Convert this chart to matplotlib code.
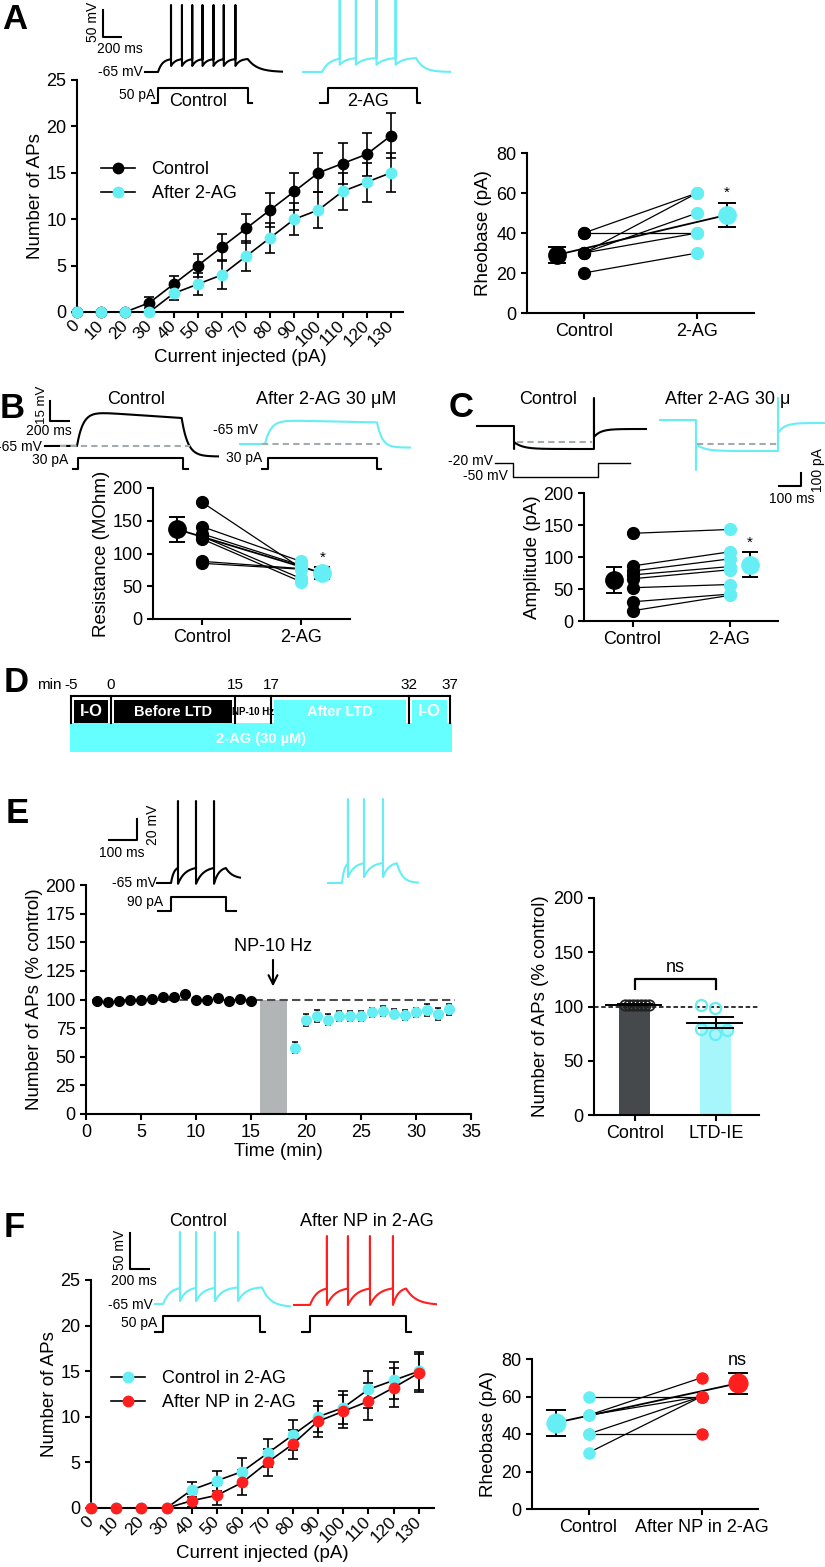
import numpy as np
import matplotlib.pyplot as plt
from matplotlib.patches import Rectangle

plt.rcParams['font.family'] = ['Liberation Sans', 'DejaVu Sans']
plt.rcParams['font.size'] = 12
plt.rcParams['axes.linewidth'] = 1.5
plt.rcParams['xtick.major.width'] = 1.5
plt.rcParams['ytick.major.width'] = 1.5
plt.rcParams['xtick.major.size'] = 4
plt.rcParams['ytick.major.size'] = 4
plt.rcParams['xtick.labelsize'] = 13
plt.rcParams['ytick.labelsize'] = 13
plt.rcParams['axes.labelsize'] = 13.5

W, H = 825, 1567
CYAN = '#66eef5'
RED = '#ff1f1f'
GREY = '#a3abae'

# ---------------- data ----------------
current = np.arange(0, 140, 10)

# A: input-output
aps_ctrl = [0, 0, 0, 1, 3, 5, 7, 9, 11, 13, 15, 16, 17, 19]
aps_ctrl_err = [0, 0, 0, 0.6, 0.9, 1.2, 1.4, 1.6, 1.8, 2.0, 2.1, 2.2, 2.3, 2.4]
aps_2ag = [0, 0, 0, 0, 2, 3, 4, 6, 8, 10, 11, 13, 14, 15]
aps_2ag_err = [0, 0, 0, 0, 0.7, 1.2, 1.5, 1.6, 1.6, 1.7, 1.9, 2.0, 2.1, 2.1]

# A: rheobase
rheo_ctrl = [40, 40, 30, 30, 30, 20]
rheo_2ag = [60, 40, 60, 50, 40, 30]
rheo_mean = [29, 49]
rheo_sem = [3.8, 6]

# B: input resistance
res_ctrl = [178, 141, 130, 126, 122, 88, 85]
res_2ag = [78, 88, 82, 62, 57, 77, 76]
res_mean = [137, 70]
res_sem = [19, 9]

# C: current amplitude
amp_ctrl = [137, 86, 78, 72, 66, 52, 30, 16]
amp_2ag = [143, 108, 97, 85, 80, 57, 42, 40]
amp_mean = [64, 88]
amp_sem = [21, 20]

# D: protocol timeline
d_labels = ['-5', '0', '15', '17', '32', '37']

# E: time course
time_pre = np.arange(1, 16)
aps_pre = [99, 98, 99, 100, 100, 100.5, 102.5, 102.5, 105, 100, 100, 101, 99, 100.3, 99]
time_post = np.arange(19, 34)
aps_post = [58, 82, 85.5, 82.5, 85.5, 85.5, 85.5, 89, 90, 87.5, 86.5, 89, 91, 87.5, 91.5]
aps_post_err = [5, 5, 5, 5, 4.5, 4.5, 4.5, 4, 4, 4, 4.5, 4, 5, 5, 5]

# E: summary bars
bar_cats = ['Control', 'LTD-IE']
bar_means = [101.5, 85.2]
bar_sem = [0.5, 5]
ctrl_pts = [101.5] * 7
ctrl_off = [-0.12, -0.07, -0.02, 0.03, 0.08, 0.13, 0.18]
ltd_pts = [101.5, 98.5, 79, 74.8, 78.5]
ltd_off = [-0.18, -0.01, -0.18, -0.01, 0.14]

# F: input-output in 2-AG
aps_c2 = [0, 0, 0, 0, 2, 3, 4, 6, 8, 10, 11, 13, 14, 15]
aps_c2_err = [0, 0, 0, 0, 0.8, 1.1, 1.5, 1.55, 1.6, 1.7, 1.8, 2.0, 2.0, 2.1]
aps_np = [0, 0, 0, 0, 0.8, 1.4, 2.8, 5, 7, 9.5, 10.6, 11.7, 13.2, 14.8]
aps_np_err = [0, 0, 0, 0, 0.7, 1.1, 1.4, 1.5, 1.6, 1.7, 1.8, 2.0, 2.1, 2.1]

# F: rheobase
rheo_c2 = [60, 50, 50, 40, 30, 40]
rheo_np = [60, 70, 60, 60, 60, 40]
rheo2_mean = [46, 67]
rheo2_sem = [7, 5.5]

# ---------------- figure ----------------
fig = plt.figure(figsize=(W / 100, H / 100), dpi=100)


def px_axes(l, t, r, b):
    ax = fig.add_axes([l / W, 1 - b / H, (r - l) / W, (b - t) / H])
    ax.spines['top'].set_visible(False)
    ax.spines['right'].set_visible(False)
    return ax


def io_plot(ax, series, xmax):
    for y, e, c, lab in series:
        ax.errorbar(current, y, yerr=e, fmt='none', ecolor='black', elinewidth=1.2,
                    capsize=3.5, capthick=1.2, zorder=2, clip_on=False)
        ax.plot(current, y, '-o', color='black', lw=1.2, ms=7.5, mfc=c, mec=c,
                label=lab, zorder=3, clip_on=False)
    ax.set_xlim(0, xmax)
    ax.set_ylim(0, 25)
    ax.set_yticks([0, 5, 10, 15, 20, 25])
    ax.set_xticks(current)
    ax.set_xticklabels([str(c) for c in current], rotation=45, ha='right', va='center',
                       rotation_mode='anchor', fontsize=12.5)
    ax.tick_params(axis='x', pad=4)
    ax.set_ylabel('Number of APs', labelpad=2)
    ax.set_xlabel('Current injected (pA)', labelpad=0)


def paired(ax, a, b, means, sems, ca, cb, mean_x, ms=8.5, mms=12.5, cap=6.5,
           mean_line=True):
    for va, vb in zip(a, b):
        ax.plot([0, 1], [va, vb], color='black', lw=0.9, zorder=2)
    if mean_line:
        ax.plot(mean_x, means, color='black', lw=1.3, zorder=2)
    ax.plot(np.zeros(len(a)), a, 'o', ms=ms, color=ca, zorder=3, clip_on=False)
    ax.plot(np.ones(len(b)), b, 'o', ms=ms, color=cb, zorder=3, clip_on=False)
    ax.errorbar(mean_x, means, yerr=sems, fmt='none', ecolor='black', capsize=cap,
                elinewidth=1.4, capthick=1.4, zorder=4)
    for mx, m, c in zip(mean_x, means, (ca, cb)):
        ax.plot(mx, m, 'o', ms=mms, color=c, zorder=5)
    ax.set_xlim(-0.5, 1.5)
    ax.set_xticks([0, 1])


# A main
axA = px_axes(77, 80, 403, 312)
io_plot(axA, [(aps_ctrl, aps_ctrl_err, 'black', 'Control'),
              (aps_2ag, aps_2ag_err, CYAN, 'After 2-AG')], 135)
axA.legend(loc='upper left', bbox_to_anchor=(92 / W, 1 - 152 / H), bbox_transform=fig.transFigure,
           frameon=False, fontsize=13, handlelength=1.9, handletextpad=0.9, borderpad=0,
           labelspacing=0.4)

# A rheobase
axAr = px_axes(527, 153, 754, 313)
paired(axAr, rheo_ctrl, rheo_2ag, rheo_mean, rheo_sem, 'black', CYAN, (-0.24, 1.26))
axAr.set_ylim(0, 80)
axAr.set_yticks([0, 20, 40, 60, 80])
axAr.set_xticklabels(['Control', '2-AG'])
axAr.set_ylabel('Rheobase (pA)', labelpad=3)
axAr.text(1.26, rheo_mean[1] + rheo_sem[1] + 1.5, '*', ha='center', va='bottom', fontsize=11)

# B resistance
axB = px_axes(153, 488, 350, 619)
paired(axB, res_ctrl, res_2ag, res_mean, res_sem, 'black', CYAN, (-0.255, 1.22), cap=6)
axB.set_ylim(0, 200)
axB.set_yticks([0, 50, 100, 150, 200])
axB.set_xticklabels(['Control', '2-AG'])
axB.set_ylabel('Resistance (MOhm)', labelpad=2)
axB.text(1.22, res_mean[1] + res_sem[1] + 4, '*', ha='center', va='bottom', fontsize=11)

# C amplitude
axC = px_axes(584, 493, 778, 621)
paired(axC, amp_ctrl, amp_2ag, amp_mean, amp_sem, 'black', CYAN, (-0.19, 1.21), cap=5.5,
       mean_line=False)
axC.set_ylim(0, 200)
axC.set_yticks([0, 50, 100, 150, 200])
axC.set_xticklabels(['Control', '2-AG'])
axC.set_ylabel('Amplitude (pA)', labelpad=2)
axC.text(1.21, amp_mean[1] + amp_sem[1] + 4, '*', ha='center', va='bottom', fontsize=11)

# E time course
axE = px_axes(86, 885, 471, 1114)
axE.axvspan(15.8, 18.3, ymin=0, ymax=0.5, color='#b1b5b6', lw=0, zorder=1)
axE.plot([0.5, 33.5], [100, 100], ls=(0, (4, 2)), color='#4d4d4d', lw=1.5, zorder=1)
axE.errorbar(time_post, aps_post, yerr=aps_post_err, fmt='none', ecolor='black',
             elinewidth=1.1, capsize=2.5, capthick=1.1, zorder=2)
axE.plot(time_pre, aps_pre, 'o', color='black', ms=7, zorder=3)
axE.plot(time_post, aps_post, 'o', color=CYAN, ms=7, zorder=3)
axE.annotate('', xy=(17, 109), xytext=(17, 137),
             arrowprops=dict(arrowstyle='->', lw=1.5, color='black', mutation_scale=16))
axE.text(17, 146, 'NP-10 Hz', ha='center', va='center', fontsize=13)
axE.set_xlim(0, 35)
axE.set_ylim(0, 200)
axE.set_xticks(range(0, 40, 5))
axE.set_yticks(range(0, 225, 25))
axE.set_xlabel('Time (min)', labelpad=1)
axE.set_ylabel('Number of APs (% control)', labelpad=2)

# E bars
axEb = px_axes(594, 898, 759, 1115)
axEb.bar([0, 1], bar_means, width=0.38, color=['#45494c', '#a6f6fb'], zorder=1)
axEb.axhline(100, ls=(0, (2.5, 1.5)), color='#222222', lw=1.3, zorder=2)
axEb.plot(np.array(ctrl_off), ctrl_pts, 'o', mfc='none', mec='#222222', mew=1.3, ms=7.5, zorder=3)
axEb.plot(1 + np.array(ltd_off), ltd_pts, 'o', mfc='none', mec=CYAN, mew=1.6, ms=8, zorder=3)
for i, (m, s) in enumerate(zip(bar_means, bar_sem)):
    axEb.plot([i - 0.35, i + 0.32], [m, m], color='black', lw=1.4, zorder=4)
    axEb.errorbar(i, m, yerr=s, fmt='none', ecolor='black', elinewidth=1.4, capsize=13,
                  capthick=1.4, zorder=4)
axEb.plot([0, 0, 1, 1], [116, 125, 125, 116], color='black', lw=1.6)
axEb.text(0.5, 136, 'ns', ha='center', va='center', fontsize=13)
axEb.set_xlim(-0.5, 1.53)
axEb.set_ylim(0, 200)
axEb.set_yticks([0, 50, 100, 150, 200])
axEb.set_xticks([0, 1])
axEb.set_xticklabels(bar_cats)
axEb.set_ylabel('Number of APs (% control)', labelpad=3)

# F main
axF = px_axes(91, 1280, 434, 1508)
io_plot(axF, [(aps_c2, aps_c2_err, CYAN, 'Control in 2-AG'),
              (aps_np, aps_np_err, RED, 'After NP in 2-AG')], 136)
axF.legend(loc='upper left', bbox_to_anchor=(102 / W, 1 - 1361 / H), bbox_transform=fig.transFigure,
           frameon=False, fontsize=13, handlelength=1.9, handletextpad=0.9, borderpad=0,
           labelspacing=0.4)

# F rheobase
axFr = px_axes(532, 1359, 758, 1509)
paired(axFr, rheo_c2, rheo_np, rheo2_mean, rheo2_sem, CYAN, RED, (-0.29, 1.32), ms=8,
       mms=13.5, cap=7)
axFr.set_ylim(0, 80)
axFr.set_yticks([0, 20, 40, 60, 80])
axFr.set_xticklabels(['Control', 'After NP in 2-AG'])
axFr.set_ylabel('Rheobase (pA)', labelpad=3)
axFr.text(1.32, rheo2_mean[1] + rheo2_sem[1] + 2, 'ns', ha='center', va='bottom', fontsize=13)

# ---------------- overlay: traces, schematic, panel letters ----------------
ov = fig.add_axes([0, 0, 1, 1])
ov.set_xlim(0, W)
ov.set_ylim(H, 0)
ov.axis('off')


def spiking(on, off, spikes, thr, trough, end=0.0, tau_end=0.05, n=4000):
    t = np.linspace(0, 1, n)
    v = np.zeros(n)
    bounds = [on] + list(spikes) + [off]
    lows = [0.0] + [trough] * len(spikes)
    isi = np.mean(np.diff(spikes)) if len(spikes) > 1 else 0.1
    for k in range(len(bounds) - 1):
        a, b = bounds[k], bounds[k + 1]
        seg = (t >= a) & (t < b)
        tau = 0.4 * min(b - a, isi)
        v[seg] = thr - (thr - lows[k]) * np.exp(-(t[seg] - a) / tau)
    i_off = np.searchsorted(t, off)
    v_off = v[i_off - 1]
    after = t >= off
    v[after] = end + (v_off - end) * np.exp(-(t[after] - off) / tau_end)
    for s in spikes:
        v[np.searchsorted(t, s) - 1] = 1.0
    return v


def passive(on, off, sag, end, tau_on=0.03, tau_off=0.03, n=2000):
    t = np.linspace(0, 1, n)
    v = np.zeros(n)
    d = (t >= on) & (t < off)
    v[d] = (1 - np.exp(-(t[d] - on) / tau_on)) * (1 - sag * (t[d] - on) / (off - on))
    v_off = (1 - np.exp(-(off - on) / tau_on)) * (1 - sag)
    a = t >= off
    v[a] = end + (v_off - end) * np.exp(-(t[a] - off) / tau_off)
    return v


def clamp(on, off, drop, steady, on_tr, off_sp, post, tau=0.05, n=3000):
    t = np.linspace(0, 1, n)
    v = np.zeros(n)
    d = (t >= on) & (t < off)
    v[d] = -(drop + (steady - drop) * (1 - np.exp(-(t[d] - on) / tau)))
    a = t >= off
    v[a] = -3 - (post - 3) * np.exp(-(t[a] - off) / 0.04)
    v[np.searchsorted(t, on)] = -on_tr
    v[np.searchsorted(t, off)] = off_sp
    return v


def draw_trace(x0, x1, ybase, height, v, color, lw=1.5):
    t = np.linspace(0, 1, len(v))
    ov.plot(x0 + t * (x1 - x0), ybase - np.asarray(v) * height, color=color, lw=lw)


def step(xa, xon, xoff, xb, low, high, lw=1.5):
    ov.plot([xa, xon, xon, xoff, xoff, xb], [low, low, high, high, low, low], color='black', lw=lw)


def scalebar(x, ytop, ybot, w, lw=1.5):
    ov.plot([x, x, x + w], [ytop, ybot, ybot], color='black', lw=lw)


def txt(x, y, s, size=10, ha='center', va='center', **kw):
    ov.text(x, y, s, fontsize=size, ha=ha, va=va, **kw)


# panel letters
for letter, x, y in [('A', 2, 29), ('B', 0, 418), ('C', 449, 417), ('D', 4, 692),
                     ('E', 6, 823), ('F', 4, 1237)]:
    ov.text(x, y, letter, fontsize=25, fontweight='bold', va='baseline', ha='left')

# A traces
draw_trace(145, 282, 72, 67, spiking(0.095, 0.75, [0.19, 0.27, 0.345, 0.42, 0.5, 0.575, 0.66],
                                      0.2, 0.09, end=0.0, tau_end=0.07), 'black')
draw_trace(303, 450, 72, 72, spiking(0.13, 0.77, [0.25, 0.36, 0.5, 0.63], 0.2, 0.1,
                                      end=0.0, tau_end=0.05), CYAN)
step(152, 158, 248, 252, 103, 88)
step(320, 328, 417, 420, 103, 88)
scalebar(103, 10, 37, 18)
txt(93, 22, '50 mV', rotation=90)
txt(120, 49, '200 ms')
txt(143, 72, '-65 mV', ha='right')
txt(155, 95, '50 pA', ha='right')
txt(198, 101, 'Control', size=13)
txt(368, 102, '2-AG', size=13)

# B traces
draw_trace(45, 218, 446, 35, passive(0.185, 0.79, 0.2, -0.3, 0.035, 0.035), 'black')
draw_trace(240, 410, 444, 24, passive(0.147, 0.806, 0.1, -0.15, 0.035, 0.03), CYAN)
ov.plot([60, 190], [446, 446], ls=(0, (3, 2)), color=GREY, lw=1.5)
ov.plot([262, 380], [444, 444], ls=(0, (3, 2)), color=GREY, lw=1.5)
step(73, 78, 183, 188, 469, 458)
step(262, 268, 377, 381, 469, 458)
scalebar(50, 401, 421, 19)
txt(42, 405, '15 mV', rotation=90, size=9.5)
txt(49, 431, '200 ms')
txt(42, 447, '-65 mV', ha='right')
txt(68, 460, '30 pA', ha='right')
txt(136, 400, 'Control', size=13)
txt(326, 400, 'After 2-AG 30 \u03bcM', size=13)
txt(258, 430, '-65 mV', ha='right')
txt(262, 458, '30 pA', ha='right')

# C traces
draw_trace(477, 646, 426, 1, clamp(0.219, 0.692, 16, 23, 23, 28, 11), 'black')
draw_trace(660, 825, 420, 1, clamp(0.218, 0.715, 24, 31, 50, 22, 13), CYAN)
ov.plot([517, 592], [442, 442], ls=(0, (3, 2)), color=GREY, lw=1.5)
ov.plot([697, 778], [444, 444], ls=(0, (3, 2)), color=GREY, lw=1.5)
ov.plot([495, 513, 513, 598, 598, 630], [463, 463, 477, 477, 463, 463], color='black', lw=1)
txt(493, 461, '-20 mV', ha='right')
txt(508, 476, '-50 mV', ha='right')
txt(548, 400, 'Control', size=13)
txt(665, 399, 'After 2-AG 30 \u03bc', size=13, ha='left')
scalebar(801, 473, 486, -22)
txt(818, 470, '100 pA', rotation=90)
txt(792, 499, '100 ms')

# D schematic
d_edges = [71, 111, 235, 271, 409, 450]
ov.add_patch(Rectangle((70, 723), 382, 29, color='#66ffff', lw=0))
txt(261, 739, '2-AG (30 \u00b5M)', size=10.5, color='white', fontweight='bold',
    family=['Liberation Sans Narrow', 'Liberation Sans'])
ov.plot([d_edges[0], d_edges[-1]], [696, 696], color='black', lw=1.5)
for x in d_edges:
    ov.plot([x, x], [696, 723], color='black', lw=1.5)
d_boxes = [('I-O', 'black', 'white', 12), ('Before LTD', 'black', 'white', 10.5),
           ('NP-10 Hz', 'white', 'black', 7), ('After LTD', '#66ffff', 'white', 10.5),
           ('I-O', '#66ffff', 'white', 12)]
for (lab, fc, tc, fs), l, r in zip(d_boxes, d_edges[:-1], d_edges[1:]):
    ov.add_patch(Rectangle((l + 3, 700), r - l - 6, 23, color=fc, lw=0))
    txt((l + r) / 2, 712, lab, size=fs, color=tc, fontweight='bold',
        family=['Liberation Sans Narrow', 'Liberation Sans'])
txt(37, 685, 'min', size=11, ha='left')
for lab, x in zip(d_labels, d_edges):
    txt(x, 685, lab, size=11)

# E traces
draw_trace(157, 240, 883, 82, spiking(0.169, 0.83, [0.253, 0.47, 0.687], 0.2, -0.01,
                                      end=0.05, tau_end=0.08), 'black')
draw_trace(328, 418, 883, 84, spiking(0.155, 0.766, [0.222, 0.4, 0.611], 0.25, 0.07,
                                      end=0.0, tau_end=0.06), CYAN)
step(158, 171, 226, 236, 911, 897)
scalebar(137, 819, 840, -28)
txt(153, 825, '20 mV', rotation=90)
txt(122, 853, '100 ms')
txt(157, 883, '-65 mV', ha='right')
txt(163, 902, '90 pA', ha='right')

# F traces
draw_trace(155, 290, 1304, 72, spiking(0.06, 0.793, [0.185, 0.304, 0.444, 0.615], 0.24, 0.04,
                                       end=-0.04, tau_end=0.06), CYAN)
draw_trace(294, 436, 1305, 69, spiking(0.113, 0.789, [0.232, 0.38, 0.535, 0.697], 0.26, 0.0,
                                       end=0.0, tau_end=0.07), RED)
step(155, 163, 260, 265, 1332, 1316)
step(302, 310, 406, 411, 1332, 1316)
scalebar(130, 1233, 1269, 19)
txt(120, 1250, '50 mV', rotation=90)
txt(134, 1281, '200 ms')
txt(153, 1305, '-65 mV', ha='right')
txt(157, 1323, '50 pA', ha='right')
txt(198, 1221, 'Control', size=13)
txt(367, 1221, 'After NP in 2-AG', size=13)

fig.savefig('out.png', dpi=100)
